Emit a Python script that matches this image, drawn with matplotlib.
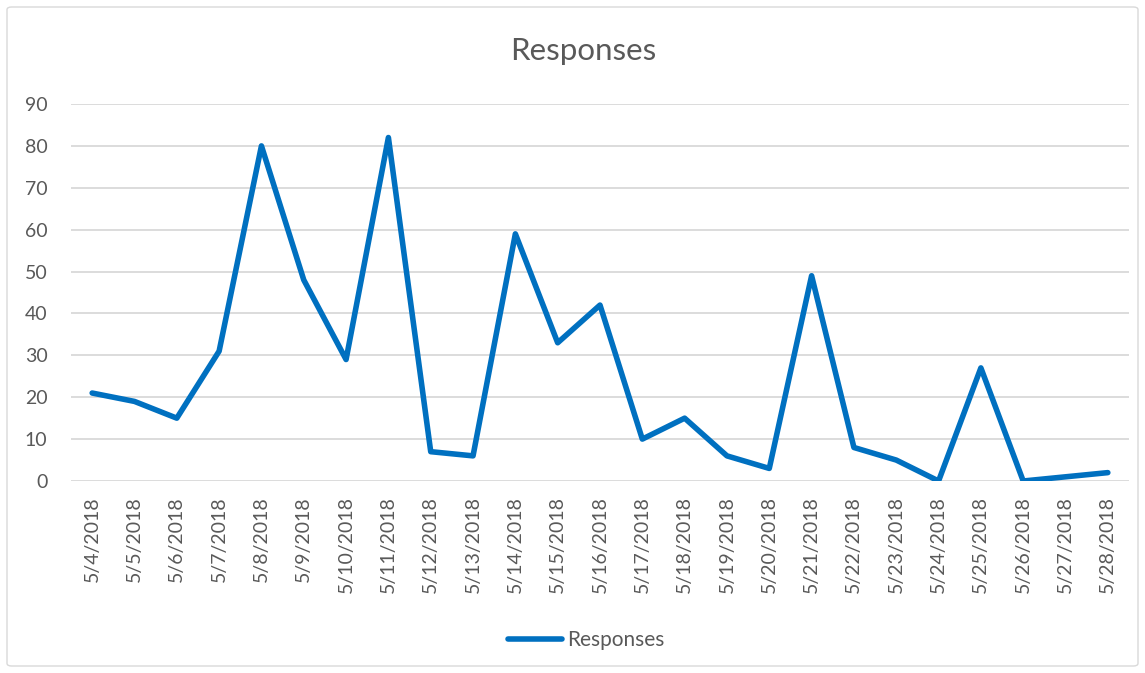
import matplotlib
matplotlib.use("Agg")
import matplotlib.pyplot as plt
from matplotlib.patches import FancyBboxPatch

dates = ["5/4/2018", "5/5/2018", "5/6/2018", "5/7/2018", "5/8/2018", "5/9/2018",
         "5/10/2018", "5/11/2018", "5/12/2018", "5/13/2018", "5/14/2018", "5/15/2018",
         "5/16/2018", "5/17/2018", "5/18/2018", "5/19/2018", "5/20/2018", "5/21/2018",
         "5/22/2018", "5/23/2018", "5/24/2018", "5/25/2018", "5/26/2018", "5/27/2018",
         "5/28/2018"]
responses = [21, 19, 15, 31, 80, 48, 29, 82, 7, 6, 59, 33, 42, 10, 15, 6, 3, 49,
             8, 5, 0, 27, 0, 1, 2]
yticks = [0, 10, 20, 30, 40, 50, 60, 70, 80, 90]

plt.rcParams['font.family'] = ['Lato', 'DejaVu Sans']
txt = '#595959'

fig = plt.figure(figsize=(11.45, 6.73), dpi=100)
W, H = 1145, 673
ax = fig.add_axes([71 / W, 1 - 481 / H, (1129 - 71) / W, (481 - 104) / H])

x = list(range(len(dates)))
ax.plot(x, responses, color='#0070C0', lw=4.0, solid_joinstyle='round',
        solid_capstyle='round', label='Responses')

ax.set_xlim(-0.5, len(dates) - 0.5)
ax.set_ylim(0, 90)
ax.set_yticks(yticks)
ax.set_xticks(x)
ax.set_xticklabels(dates, rotation=90, color=txt, fontsize=14)
ax.tick_params(axis='y', labelcolor=txt, labelsize=14, length=0, pad=17)
ax.tick_params(axis='x', length=0, pad=11)
ax.grid(axis='y', color='#d9d9d9', lw=1.3)
ax.set_axisbelow(True)
for s in ax.spines.values():
    s.set_visible(False)

fig.text(583 / W, 1 - 51 / H, 'Responses', ha='center', va='center',
         fontsize=22.5, color=txt)

leg = fig.legend(loc='center', bbox_to_anchor=(586 / W, 1 - 640 / H), frameon=False,
                 fontsize=15, handlelength=2.6, handletextpad=0.25)
for t in leg.get_texts():
    t.set_color(txt)

border = FancyBboxPatch((7 / W, 7 / H), (W - 14) / W, (H - 14) / H,
                        boxstyle='round,pad=0,rounding_size=0.004',
                        transform=fig.transFigure, fill=False,
                        edgecolor='#d9d9d9', lw=1.0)
fig.patches.append(border)

fig.savefig('out.png', dpi=100, facecolor='white')
